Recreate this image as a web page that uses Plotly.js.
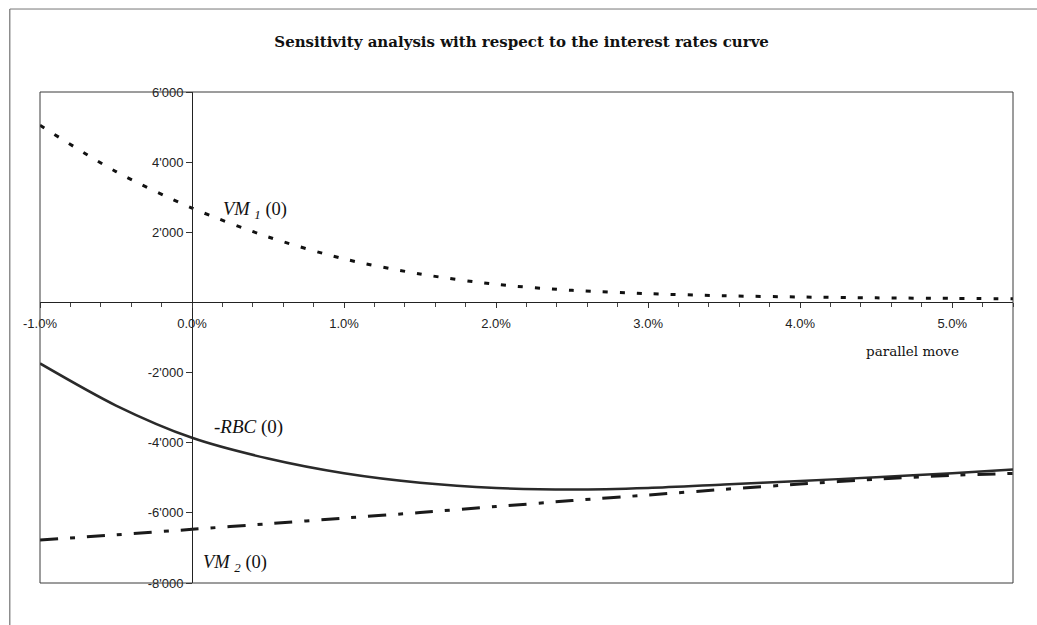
<!DOCTYPE html>
<html>
<head>
<meta charset="utf-8">
<script src="https://cdn.plot.ly/plotly-3.0.1.min.js"></script>
<style>
  html, body { margin: 0; padding: 0; background: #fff; }
  #chart { width: 1037px; height: 625px; }
</style>
</head>
<body>
<div id="chart"></div>
<script>
// Parallel move of the interest rate curve, in percent
const shift = [-1.0, -0.5, 0.0, 0.5, 1.0, 1.5, 2.0, 2.5, 3.0, 3.5, 4.0, 4.5, 5.0, 5.4];

// Market value of the first leg
const vm1 = [5050, 3730, 2690, 1870, 1240, 810, 515, 345, 250, 190, 155, 130, 115, 105];

// Minus the risk-based capital
const negRbc = [-1740, -2940, -3860, -4450, -4870, -5140, -5290, -5335, -5290, -5190, -5090, -4985, -4870, -4765];

// Market value of the second leg
const vm2 = [-6775, -6625, -6470, -6310, -6150, -5990, -5820, -5650, -5490, -5330, -5180, -5040, -4930, -4875];

// Axis ranges and tick labels
const xRange = [-1.0, 5.4];
const yRange = [-8000, 6000];
const xTickVals = [-1, 0, 1, 2, 3, 4, 5];
const xTickText = ['-1.0%', '0.0%', '1.0%', '2.0%', '3.0%', '4.0%', '5.0%'];
const yTickVals = [6000, 4000, 2000, -2000, -4000, -6000, -8000];
const yTickText = ["6'000", "4'000", "2'000", "-2'000", "-4'000", "-6'000", "-8'000"];

// Axes cross at the origin: place each axis line through zero
const xAxisPos = (0 - yRange[0]) / (yRange[1] - yRange[0]);
const yAxisPos = (0 - xRange[0]) / (xRange[1] - xRange[0]);

const serif = 'Liberation Serif, Times New Roman, serif';
const wideSerif = 'DejaVu Serif, serif';
const sans = 'Liberation Sans, Arial, sans-serif';

const traces = [
  {
    x: shift, y: vm1, type: 'scatter', mode: 'lines', name: 'VM1(0)',
    line: { color: '#111', width: 3, dash: '5px,12px', shape: 'spline', smoothing: 0.8 }
  },
  {
    x: shift, y: negRbc, type: 'scatter', mode: 'lines', name: '-RBC(0)',
    line: { color: '#2a2a2a', width: 2.5, shape: 'spline', smoothing: 0.8 }
  },
  {
    x: shift, y: vm2, type: 'scatter', mode: 'lines', name: 'VM2(0)',
    line: { color: '#1a1a1a', width: 3, dash: '18px,12px,5px,12px', shape: 'spline', smoothing: 0.8 }
  }
];

const layout = {
  width: 1037, height: 625,
  margin: { l: 40, r: 24, t: 92, b: 42 },
  paper_bgcolor: '#fff', plot_bgcolor: '#fff',
  showlegend: false,
  title: {
    text: '<b>Sensitivity analysis with respect to the interest rates curve</b>',
    font: { family: wideSerif, size: 15, color: '#111' },
    x: 0.503, xanchor: 'center', y: 0.933, yanchor: 'middle'
  },
  xaxis: {
    range: xRange, anchor: 'free', position: xAxisPos,
    showgrid: false, zeroline: false,
    showline: true, linecolor: '#222', linewidth: 1,
    tickvals: xTickVals, ticktext: xTickText,
    ticks: 'outside', ticklen: 5, tickcolor: '#333', tickwidth: 1,
    minor: { tick0: -1, dtick: 0.2, ticks: 'outside', ticklen: 4, tickcolor: '#444', showgrid: false },
    tickfont: { family: sans, size: 13, color: '#222' },
    ticklabelstandoff: 4
  },
  yaxis: {
    range: yRange, anchor: 'free', position: yAxisPos,
    showgrid: false, zeroline: false,
    showline: true, linecolor: '#222', linewidth: 1,
    tickvals: yTickVals, ticktext: yTickText,
    ticks: 'outside', ticklen: 6, tickcolor: '#333',
    tickfont: { family: sans, size: 13, color: '#222' }
  },
  shapes: [
    // plot area frame
    { type: 'rect', xref: 'paper', yref: 'paper', x0: 0, x1: 1, y0: 0, y1: 1,
      line: { color: '#3a3a3a', width: 1 }, layer: 'above' },
    // outer figure frame (left and top edges)
    { type: 'line', xref: 'paper', yref: 'paper', x0: -0.031, x1: -0.031, y0: -0.2, y1: 1.169,
      line: { color: '#555', width: 1 } },
    { type: 'line', xref: 'paper', yref: 'paper', x0: -0.031, x1: 1.1, y0: 1.169, y1: 1.169,
      line: { color: '#777', width: 1 } }
  ],
  annotations: [
    { x: 0.19, y: 2635, xref: 'x', yref: 'y', xanchor: 'left', yanchor: 'middle', showarrow: false,
      text: '<i>VM</i> <i><sub>1</sub></i> (0)', font: { family: serif, size: 18.5, color: '#111' } },
    { x: 0.13, y: -3553, xref: 'x', yref: 'y', xanchor: 'left', yanchor: 'middle', showarrow: false,
      text: '-<i>RBC</i> (0)', font: { family: serif, size: 19, color: '#111' } },
    { x: 0.06, y: -7431, xref: 'x', yref: 'y', xanchor: 'left', yanchor: 'middle', showarrow: false,
      text: '<i>VM</i> <i><sub>2</sub></i> (0)', font: { family: serif, size: 18.5, color: '#111' } },
    { x: 4.74, y: -1380, xref: 'x', yref: 'y', xanchor: 'center', yanchor: 'middle', showarrow: false,
      text: 'parallel move', font: { family: wideSerif, size: 13.5, color: '#111' } }
  ]
};

Plotly.newPlot('chart', traces, layout, { staticPlot: true, displayModeBar: false });
</script>
</body>
</html>
